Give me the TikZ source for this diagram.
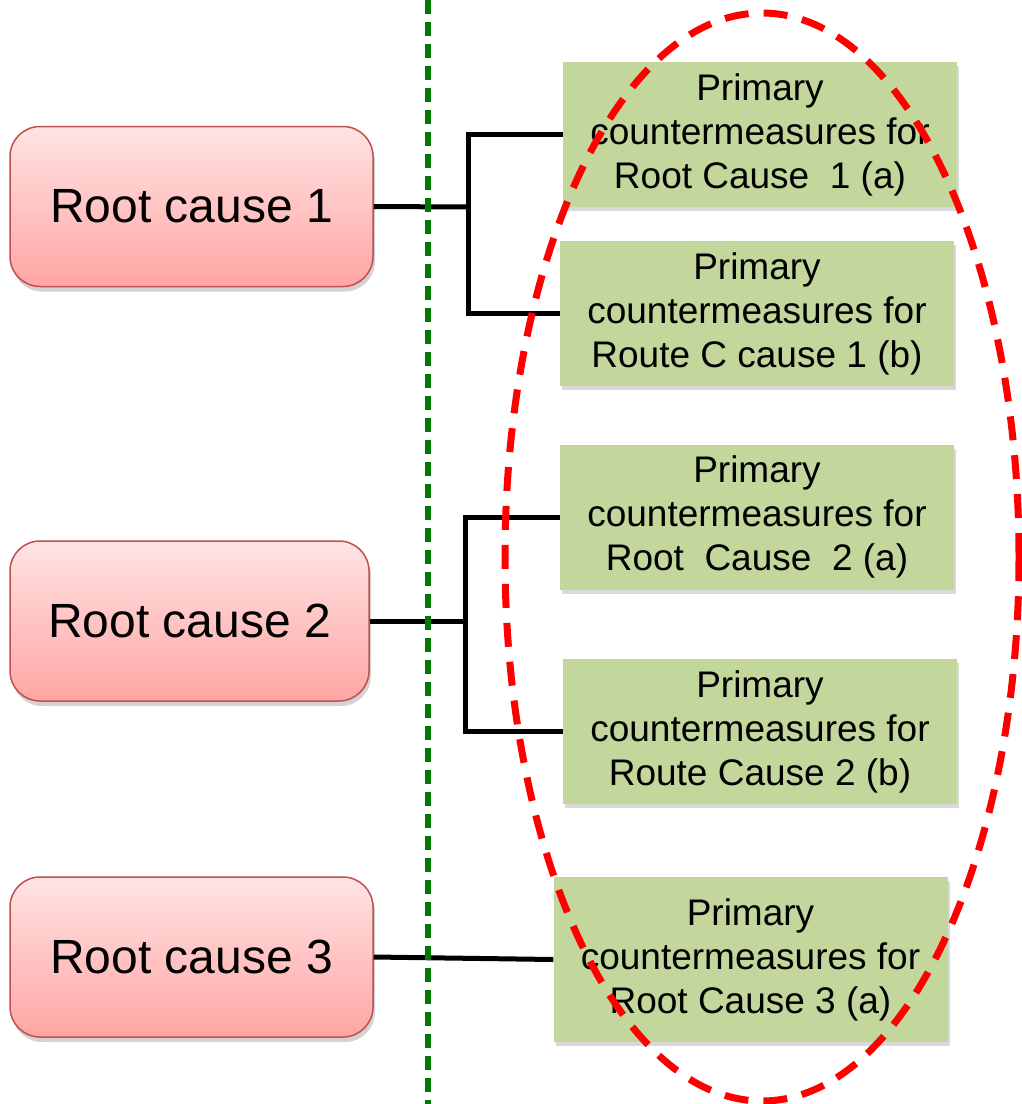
\documentclass[tikz,border=0pt]{standalone}
\usepackage{fontspec}
\setmainfont{Liberation Sans}
\usetikzlibrary{shadows}
\definecolor{causeedge}{HTML}{C0504D}
\definecolor{causetop}{HTML}{FFE3E3}
\definecolor{causebot}{HTML}{FFA6A4}
\definecolor{cmfill}{HTML}{C3D69B}
\definecolor{divider}{HTML}{007A00}
\definecolor{scope}{HTML}{FF0000}
\begin{document}
\begin{tikzpicture}[x=1pt,y=-1pt,
  causebox/.style={draw=causeedge, line width=1.5pt, rounded corners=30pt,
    top color=causetop, bottom color=causebot,
    minimum height=160pt, inner sep=0pt,
    font=\fontsize{48}{54}\selectfont,
    drop shadow={shadow xshift=2pt, shadow yshift=-5pt, opacity=0.35}},
  cmbox/.style={fill=cmfill, minimum width=394pt, minimum height=145pt,
    inner sep=0pt, align=center,
    font=\fontsize{37}{44}\selectfont,
    drop shadow={shadow xshift=2pt, shadow yshift=-4pt, opacity=0.3}},
  link/.style={line width=5pt, black},
  dividerline/.style={draw=divider, line width=5.5pt, dash pattern=on 14pt off 8pt},
  scopeline/.style={draw=scope, line width=7pt, dash pattern=on 24pt off 15pt}]
  \useasboundingbox (0,0) rectangle (1022,1104);

  % root causes
  \node[causebox, minimum width=363pt] (r1) at (191.5,206.5) {Root cause 1};
  \node[causebox, minimum width=359pt] (r2) at (189.5,621) {Root cause 2};
  \node[causebox, minimum width=363pt] (r3) at (191.5,957) {Root cause 3};

  % primary countermeasures
  \node[cmbox] (g1) at (760,134.5) {Primary\\countermeasures for\\Root Cause\ \ 1 (a)};
  \node[cmbox] (g2) at (757,313.5) {Primary\\countermeasures for\\Route C cause 1 (b)};
  \node[cmbox] (g3) at (757,517) {Primary\\countermeasures for\\Root\ \ Cause\ \ 2 (a)};
  \node[cmbox] (g4) at (760,731.5) {Primary\\countermeasures for\\Route Cause 2 (b)};
  \node[cmbox, minimum height=165pt] (g5) at (750.5,959.5) {Primary\\countermeasures for\\Root Cause 3 (a)};

  % connectors
  \coordinate (j1) at (468,207);
  \coordinate (j2) at (465,621);
  \draw[link] (r1.east) -- (j1);
  \draw[link] (j1) |- (g1.west);
  \draw[link] (j1) |- (g2.west);
  \draw[link] (r2.east) -- (j2);
  \draw[link] (j2) |- (g3.west);
  \draw[link] (j2) |- (g4.west);
  \draw[link] (r3.east) -- (g5.west);

  % divider and grouping outline
  \coordinate (dtop) at (428,0);
  \coordinate (dbot) at (428,1104);
  \draw[dividerline] (dtop) -- (dbot);
  \coordinate (ec) at (762,557);
  \draw[scopeline] (ec) ellipse [x radius=257pt, y radius=544pt];
\end{tikzpicture}
\end{document}
